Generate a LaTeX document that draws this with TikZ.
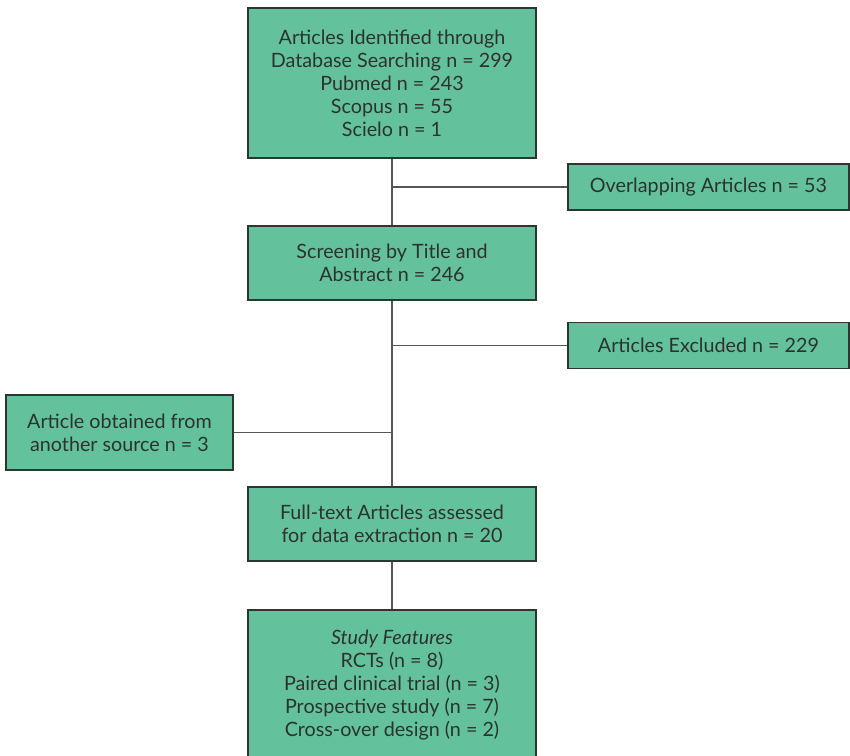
\documentclass[tikz,border=0pt]{standalone}
\usepackage{fontspec}
\setmainfont{Lato}
\definecolor{boxfill}{RGB}{99,194,155}
\definecolor{boxdraw}{RGB}{45,55,50}
\definecolor{linegray}{RGB}{85,85,85}
\definecolor{txt}{RGB}{45,50,48}
\begin{document}
\begin{tikzpicture}[x=0.75pt,y=-0.75pt,
  box/.style={draw=boxdraw,line width=1pt,fill=boxfill,align=center,inner sep=0pt,
    text=txt,font=\fontsize{14.8}{17.3}\selectfont},
  conn/.style={draw=linegray,line width=1.3pt}]
\useasboundingbox (0,0) rectangle (850,756);
\begin{scope}
\clip (0,0) rectangle (850,756);
\node[box,minimum width=216pt,minimum height=112.5pt] (ident) at (392,83)
  {Articles Identified through\\Database Searching n = 299\\Pubmed n = 243\\Scopus n = 55\\Scielo n = 1};
\node[box,minimum width=210.75pt,minimum height=34.5pt] (overlap) at (708.5,187)
  {Overlapping Articles n = 53};
\node[box,minimum width=216pt,minimum height=55.5pt] (screen) at (392,263)
  {Screening by Title and\\Abstract n = 246};
\node[box,minimum width=210.75pt,minimum height=34.5pt] (excl) at (708.5,345.5)
  {Articles Excluded n = 229};
\node[box,minimum width=170.25pt,minimum height=56.25pt] (other) at (119.5,432.5)
  {Article obtained from\\another source n = 3};
\node[box,minimum width=216pt,minimum height=55.5pt] (full) at (392,524)
  {Full-text Articles assessed\\for data extraction n = 20};
\node[box,minimum width=216pt,minimum height=112.5pt] (study) at (392,685)
  {\textit{Study Features}\\RCTs (n = 8)\\Paired clinical trial (n = 3)\\Prospective study (n = 7)\\Cross-over design (n = 2)};
\draw[conn] (ident.south) -- (screen.north);
\draw[conn] (overlap.west) -- (overlap.west -| ident.south);
\draw[conn] (screen.south) -- (full.north);
\draw[conn] (excl.west) -- (excl.west -| screen.south);
\draw[conn] (other.east) -- (other.east -| screen.south);
\draw[conn] (full.south) -- (study.north);
\end{scope}
\end{tikzpicture}
\end{document}
